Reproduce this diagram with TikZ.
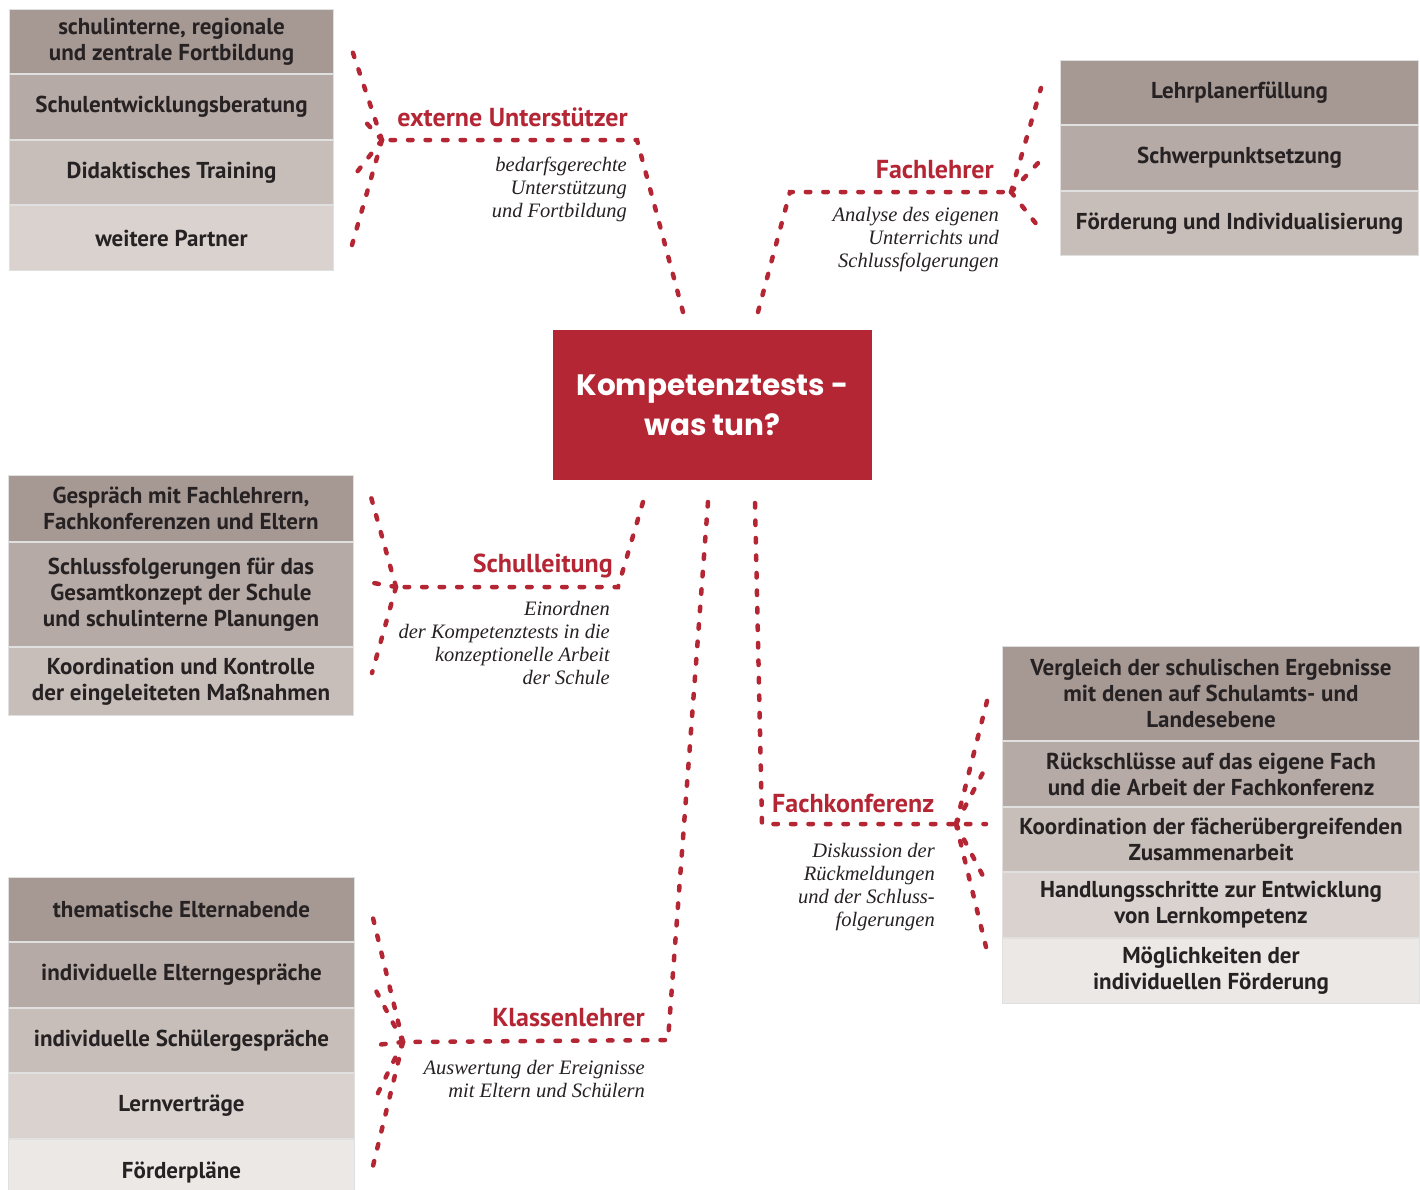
\documentclass[tikz,border=0pt]{standalone}
\usepackage{fontspec}
\setmainfont{Liberation Serif}
\newfontfamily\cellfont{PT Sans}
\newfontfamily\hubfont{Poppins}
\usetikzlibrary{positioning, calc}

\definecolor{kred}{RGB}{181,38,53}
\definecolor{ink}{RGB}{38,33,34}
\definecolor{toneA}{RGB}{166,153,148}
\definecolor{toneB}{RGB}{181,170,165}
\definecolor{toneC}{RGB}{199,190,185}
\definecolor{toneD}{RGB}{217,210,206}
\definecolor{toneE}{RGB}{236,232,229}

\tikzset{
  cell/.style={draw=white!88!black, line width=1pt, inner sep=0pt, align=center,
    text=ink, font=\cellfont\bfseries\fontsize{23}{26}\selectfont},
  role/.style={inner sep=0pt, text=kred, font=\cellfont\bfseries\fontsize{26}{28}\selectfont},
  note/.style={inner sep=0pt, align=right, text=ink, font=\itshape\fontsize{20.5}{23}\selectfont},
  hub/.style={fill=kred, text=white, inner sep=0pt, align=center,
    minimum width=319pt, minimum height=150pt,
    font=\hubfont\bfseries\fontsize{29.5}{40}\selectfont},
  dashline/.style={draw=kred, line width=4.5pt, line cap=round,
    dash pattern=on 4.5pt off 13pt}
}

\begin{document}
\begin{tikzpicture}[x=1pt, y=-1pt]
  \useasboundingbox (0,0) rectangle (1420,1189);

  % centre
  \node[hub] (kt) at (712.5,405) {Kompetenztests -\\was tun?};

  % externe Unterstuetzer
  \node[cell, fill=toneA, anchor=north west, minimum width=324pt, minimum height=64pt] (ext1) at (9,9)
    {schulinterne, regionale\\und zentrale Fortbildung};
  \node[cell, fill=toneB, minimum width=324pt, minimum height=65pt, below=0pt of ext1] (ext2) {Schulentwicklungsberatung};
  \node[cell, fill=toneC, minimum width=324pt, minimum height=64pt, below=0pt of ext2] (ext3) {Didaktisches Training};
  \node[cell, fill=toneD, minimum width=324pt, minimum height=65pt, below=0pt of ext3] (ext4) {weitere Partner};
  \node[role, anchor=east] (extRole) at (628,117) {externe Unterstützer};
  \node[note, anchor=north east] (extNote) at (627,157)
    {bedarfsgerechte\\Unterstützung\\und Fortbildung};

  % Fachlehrer
  \node[cell, fill=toneA, anchor=north west, minimum width=358pt, minimum height=64pt] (fl1) at (1060,60) {Lehrplanerfüllung};
  \node[cell, fill=toneB, minimum width=358pt, minimum height=65pt, below=0pt of fl1] (fl2) {Schwerpunktsetzung};
  \node[cell, fill=toneC, minimum width=358pt, minimum height=64pt, below=0pt of fl2] (fl3) {Förderung und Individualisierung};
  \node[role, anchor=east] (flRole) at (994,170) {Fachlehrer};
  \node[note, anchor=north east] (flNote) at (999,207)
    {Analyse des eigenen\\Unterrichts und\\Schlussfolgerungen};

  % Schulleitung
  \node[cell, fill=toneA, anchor=north west, minimum width=345pt, minimum height=66pt] (sl1) at (8,475)
    {Gespräch mit Fachlehrern,\\Fachkonferenzen und Eltern};
  \node[cell, fill=toneB, minimum width=345pt, minimum height=104pt, below=0pt of sl1] (sl2)
    {Schlussfolgerungen für das\\Gesamtkonzept der Schule\\und schulinterne Planungen};
  \node[cell, fill=toneC, minimum width=345pt, minimum height=68pt, below=0pt of sl2] (sl3)
    {Koordination und Kontrolle\\der eingeleiteten Maßnahmen};
  \node[role, anchor=east] (slRole) at (613,566) {Schulleitung};
  \node[note, anchor=north east] (slNote) at (610,601)
    {Einordnen\\der Kompetenztests in die\\konzeptionelle Arbeit\\der Schule};

  % Fachkonferenz
  \node[cell, fill=toneA, anchor=north west, minimum width=417pt, minimum height=94pt] (fk1) at (1002,646)
    {Vergleich der schulischen Ergebnisse\\mit denen auf Schulamts- und\\Landesebene};
  \node[cell, fill=toneB, minimum width=417pt, minimum height=65pt, below=0pt of fk1] (fk2)
    {Rückschlüsse auf das eigene Fach\\und die Arbeit der Fachkonferenz};
  \node[cell, fill=toneC, minimum width=417pt, minimum height=64pt, below=0pt of fk2] (fk3)
    {Koordination der fächerübergreifenden\\Zusammenarbeit};
  \node[cell, fill=toneD, minimum width=417pt, minimum height=65pt, below=0pt of fk3] (fk4)
    {Handlungsschritte zur Entwicklung\\von Lernkompetenz};
  \node[cell, fill=toneE, minimum width=417pt, minimum height=65pt, below=0pt of fk4] (fk5)
    {Möglichkeiten der\\individuellen Förderung};
  \node[role, anchor=west] (fkRole) at (772,803) {Fachkonferenz};
  \node[note, anchor=north east] (fkNote) at (935,843)
    {Diskussion der\\Rückmeldungen\\und der Schluss-\\folgerungen};

  % Klassenlehrer
  \node[cell, fill=toneA, anchor=north west, minimum width=346pt, minimum height=64pt] (kl1) at (8,877) {thematische Elternabende};
  \node[cell, fill=toneB, minimum width=346pt, minimum height=65pt, below=0pt of kl1] (kl2) {individuelle Elterngespräche};
  \node[cell, fill=toneC, minimum width=346pt, minimum height=64pt, below=0pt of kl2] (kl3) {individuelle Schülergespräche};
  \node[cell, fill=toneD, minimum width=346pt, minimum height=65pt, below=0pt of kl3] (kl4) {Lernverträge};
  \node[cell, fill=toneE, minimum width=346pt, minimum height=65pt, below=0pt of kl4] (kl5) {Förderpläne};
  \node[role, anchor=east] (klRole) at (645,1018) {Klassenlehrer};
  \node[note, anchor=north east] (klNote) at (645,1060)
    {Auswertung der Ereignisse\\mit Eltern und Schülern};

  % connector points
  \coordinate (extHub) at (683,312);
  \coordinate (extBend) at (637,140);
  \coordinate (extJ) at (382,140);
  \coordinate (flHub) at (758,312);
  \coordinate (flBend) at (790,192);
  \coordinate (flJ) at (1011,192);
  \coordinate (slHub) at (643,502);
  \coordinate (slBend) at (618,587);
  \coordinate (slJ) at (396,587);
  \coordinate (fkHub) at (755,503);
  \coordinate (fkBend) at (762,824);
  \coordinate (fkJ) at (956,824);
  \coordinate (fkEnd) at (986,824);
  \coordinate (klHub) at (708,502);
  \coordinate (klBend) at (668,1040);
  \coordinate (klJ) at (403,1042);

  % fan tips
  \coordinate (extF1) at (352,50);
  \coordinate (extF2) at (360,116);
  \coordinate (extF3) at (357,172);
  \coordinate (extF4) at (352,245);
  \coordinate (flF1) at (1041,88);
  \coordinate (flF2) at (1039,162);
  \coordinate (flF3) at (1041,230);
  \coordinate (slF1) at (371,497);
  \coordinate (slF2) at (368,582);
  \coordinate (slF3) at (372,673);
  \coordinate (fkF1) at (988,697);
  \coordinate (fkF2) at (988,763);
  \coordinate (fkF3) at (983,876);
  \coordinate (fkF4) at (986,947);
  \coordinate (klF1) at (373,918);
  \coordinate (klF2) at (373,985);
  \coordinate (klF3) at (376,1045);
  \coordinate (klF4) at (376,1097);
  \coordinate (klF5) at (373,1166);

  % branches
  \draw[dashline] (extHub) -- (extBend) -- (extJ);
  \draw[dashline] (flHub) -- (flBend) -- (flJ);
  \draw[dashline] (slHub) -- (slBend) -- (slJ);
  \draw[dashline] (fkHub) -- (fkBend) -- (fkEnd);
  \draw[dashline] (klHub) -- (klBend) -- (klJ);

  \foreach \t in {extF1,extF2,extF3,extF4}
    \draw[dashline] (extJ) -- (\t);
  \foreach \t in {flF1,flF2,flF3}
    \draw[dashline] (flJ) -- (\t);
  \foreach \t in {slF1,slF2,slF3}
    \draw[dashline] (slJ) -- (\t);
  \foreach \t in {fkF1,fkF2,fkF3,fkF4}
    \draw[dashline] (fkJ) -- (\t);
  \foreach \t in {klF1,klF2,klF3,klF4,klF5}
    \draw[dashline] (klJ) -- (\t);

\end{tikzpicture}
\end{document}
